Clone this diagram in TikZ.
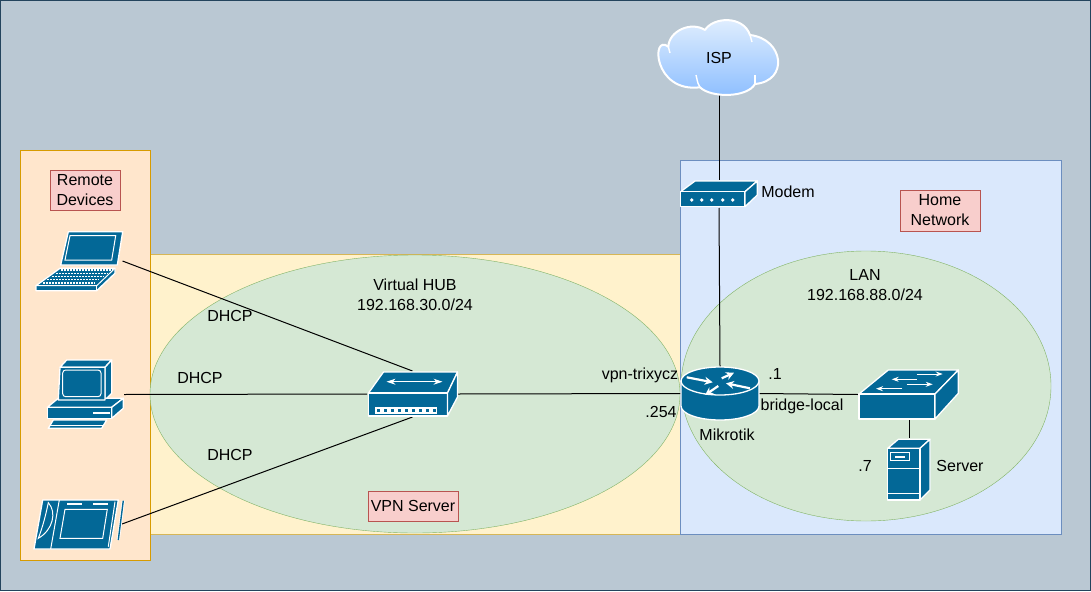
\documentclass[tikz,border=0pt]{standalone}
\usepackage{fontspec}
\setmainfont{Liberation Sans}
\usetikzlibrary{shapes.geometric,arrows.meta}

\definecolor{iconblue}{HTML}{036897}
\definecolor{backcol}{HTML}{BAC8D3}
\definecolor{backline}{HTML}{23445D}
\definecolor{subnetfill}{HTML}{D5E8D4}
\definecolor{subnetline}{HTML}{82B366}
\definecolor{tagfill}{HTML}{F8CECC}
\definecolor{tagline}{HTML}{B85450}
\definecolor{cloudtop}{HTML}{E4F0FE}
\definecolor{cloudbot}{HTML}{8CBEFF}
\definecolor{vpnfill}{HTML}{FFF2CC}
\definecolor{vpnline}{HTML}{D6B656}
\definecolor{homefill}{HTML}{DAE8FC}
\definecolor{homeline}{HTML}{6C8EBF}
\definecolor{remotefill}{HTML}{FFE6CC}
\definecolor{remoteline}{HTML}{D79B00}

\tikzset{
	zone/.style={rectangle,draw,inner sep=0,outer sep=0},
	subnet/.style={ellipse,draw=subnetline,fill=subnetfill,inner sep=0,outer sep=0},
	tag/.style={rectangle,draw=tagline,fill=tagfill,inner sep=0,outer sep=0,align=center},
	label/.style={align=center,inner sep=0},
	iconbox/.style={rectangle,inner sep=0,outer sep=0},
	link/.style={draw=black,line width=1pt},
	icon/.style={fill=iconblue,draw=white,line width=1.3pt,line join=round},
	iconline/.style={draw=white,line width=1pt},
	flow/.style={draw=white,line width=2.2pt,-{Stealth[length=8pt,width=8pt]}},
	thinflow/.style={draw=white,line width=0.9pt,-{Stealth[length=7pt,width=5pt]}},
	% Hub with ports
	hubicon/.pic={
		\path[icon] (-29,-22) -- (45,-22) -- (35,-1) -- (-44,-1) -- cycle;
		\path[icon] (-44,-1) rectangle (35,22);
		\path[icon] (35,-1) -- (45,-22) -- (45,3) -- (35,22) -- cycle;
		\fill[white] (-37.5,13) rectangle (24.5,20);
		\foreach \i in {0,...,8}
			\fill[iconblue] (-35.6+7*\i,15) rectangle +(3,3);
		\draw[thinflow,{Stealth[length=9pt,width=6pt]}-{Stealth[length=9pt,width=6pt]}] (-26,-12.3) -- (30,-12.3);
	},
	% Router
	routericon/.pic={
		\path[icon] (-39,-12.5) -- (-39,12.5) arc[start angle=180,end angle=0,x radius=39,y radius=14] -- (39,-12.5) -- cycle;
		\path[icon] (0,-12.5) ellipse[x radius=39,y radius=14];
		\draw[flow] (-33.3,-16.2) -- (-7.3,-11.2);
		\draw[flow] (1.7,-15.2) -- (14,-20.8);
		\draw[flow] (-1.7,-7.5) -- (-15,1.5);
		\draw[flow] (30,-5.2) -- (6,-10.2);
	},
	% Switch
	switchicon/.pic={
		\path[icon] (-20.7,-24.5) -- (49.3,-24.5) -- (26,-0.5) -- (-50,-0.5) -- cycle;
		\path[icon] (-50,-0.5) rectangle (26,24.5);
		\path[icon] (26,-0.5) -- (49.3,-24.5) -- (49.3,-1.2) -- (26,24.5) -- cycle;
		\draw[thinflow] (7.7,-20.5) -- (33.7,-20.5);
		\draw[thinflow] (7.7,-15.2) -- (-17.3,-15.2);
		\draw[thinflow] (-2.3,-10.2) -- (23.7,-10.2);
		\draw[thinflow] (-6.7,-5.8) -- (-33,-5.8);
	},
	% Server tower
	servericon/.pic={
		\path[icon] (-21.3,-20.7) -- (-10.7,-29.7) -- (21,-29.7) -- (11,-20.7) -- cycle;
		\path[icon] (11,-20.7) -- (21,-29.7) -- (21,21) -- (11,31) -- cycle;
		\path[icon] (-21.3,-20.7) rectangle (11,31);
		\draw[iconline] (-21.3,-0.7) -- (11,-0.7);
		\draw[iconline] (-21.3,24.3) -- (11,24.3);
		\draw[iconline] (-18.3,-16.3) rectangle (0,-8.3);
		\fill[white] (-14,-13.3) rectangle (-4,-11.3);
	},
	% Modem
	modemicon/.pic={
		\path[icon] (-24,-13) -- (38.3,-13) -- (26,-2.3) -- (-38.3,-2.3) -- cycle;
		\path[icon] (-38.3,-2.3) rectangle (26,12.7);
		\path[icon] (26,-2.3) -- (38.3,-13) -- (38.3,1) -- (26,12.7) -- cycle;
		\foreach \i in {-27.3,-17.3,-7.3,3.7,13.7}
			\fill[white] (\i,6) circle (1.8);
	},
	% Laptop
	laptopicon/.pic={
		\path[icon] (-10.2,-29.3) -- (44.2,-29.3) -- (38.8,4) -- (-17.8,4) -- cycle;
		\draw[iconline] (-8.5,-25.3) -- (37.2,-25.3) -- (33.2,-1) -- (-13.5,-1) -- cycle;
		\path[icon] (-18.5,7.3) -- (36.5,7.3) -- (36.5,12.3) -- (18.2,29.7) -- (-42.5,29.7) -- (-42.5,24.7) -- cycle;
		\draw[iconline] (-42.5,24.7) -- (18.2,24.7) -- (36.5,7.3);
		\draw[iconline] (18.2,24.7) -- (18.2,29.7);
		\foreach \i in {0,...,4}
			\draw[white,line width=1.4pt,dash pattern=on 2pt off 1pt] (-18-4.4*\i,9+3.2*\i) -- (34-4.4*\i,9+3.2*\i);
	},
	% Desktop computer
	desktopicon/.pic={
		\path[icon] (-25.5,-27.2) -- (-18.8,-34.5) -- (26.2,-34.5) -- (19.5,-27.2) -- cycle;
		\path[icon] (19.5,-27.2) -- (26.2,-34.5) -- (26.2,-1.2) -- (19.5,5.5) -- cycle;
		\path[icon] (-27.2,3.8) -- (37.8,3.8) -- (26.2,12.8) -- (-38.2,12.8) -- cycle;
		\path[icon] (-25.5,-27.2) -- (19.5,-27.2) -- (19.5,5.5) -- (-27.2,5.5) -- cycle;
		\draw[iconline,rounded corners=3pt] (-22.8,-24.5) rectangle (15.5,2.2);
		\path[icon] (-38.2,12.8) rectangle (26.2,23.8);
		\path[icon] (26.2,12.8) -- (37.8,3.8) -- (37.8,13.8) -- (26.2,23.8) -- cycle;
		\fill[white] (7.2,17.8) rectangle (24.5,19.5);
		\path[icon] (-32.2,25.5) -- (21.2,25.5) -- (16.2,33.8) -- (-37.2,33.8) -- cycle;
		\draw[iconline] (-36,31.3) -- (17.5,31.3);
	},
	% Tablet with pen
	tableticon/.pic={
		\path[icon] (-36.3,-24) -- (39.3,-24) -- (31,25) -- (-45,25) -- cycle;
		\draw[iconline] (-19.7,-24) -- (-28.3,25);
		\draw[iconline] (-30.7,-21.3) .. controls (-22,-12) and (-26,6) .. (-40.7,14.3) .. controls (-36,2) and (-33,-10) .. cycle;
		\draw[iconline] (-14,-14.7) -- (28.3,-14.7) -- (23.7,14.3) -- (-19,14.3) -- cycle;
		\fill[white] (-12.3,-21.3) rectangle (2.7,-18.7);
		\fill[white] (14.3,-21.3) rectangle (29.3,-18.7);
		\draw[iconline] (36,-22.3) -- (29.3,22.7);
		\draw[white,line width=3pt] (44.3,-23.3) -- (39.3,16);
		\draw[iconblue,line width=1.4pt] (44.3,-23.3) -- (39.3,16);
	},
	% Cloud
	cloudicon/.pic={
		\path[draw=white,line width=2pt,top color=cloudtop,bottom color=cloudbot,line join=round]
			(-50.7,-10.3) .. controls (-50,-26) and (-28,-36) .. (-14,-27)
			.. controls (-6,-40) and (24,-42) .. (31,-22)
			.. controls (65,-18) and (70,24) .. (36,27)
			.. controls (28,41) and (-8,41) .. (-19,30.3)
			.. controls (-66,36) and (-68,-24) .. cycle;
		\draw[iconline,line width=1.4pt] (-50.7,-10.3) -- (-49,-4);
		\draw[iconline,line width=1.4pt] (31,-22) -- (33,-15);
		\draw[iconline,line width=1.4pt] (36,27) -- (36,18);
		\draw[iconline,line width=1.4pt] (-19,30.3) .. controls (-21,27) .. (-23,18);
	}
}

\begin{document}
\begin{tikzpicture}[x=1pt,y=-1pt,font=\fontsize{16pt}{20pt}\selectfont]
	\useasboundingbox (0,0) rectangle (1091,591);

	% Zones
	\node[zone,draw=backline,fill=backcol,minimum width=1090pt,minimum height=590pt] (page) at (545.5,295.5) {};
	\node[zone,draw=vpnline,fill=vpnfill,minimum width=530pt,minimum height=280pt] (vpn_zone) at (415,394) {};
	\node[zone,draw=homeline,fill=homefill,minimum width=381pt,minimum height=374pt] (home_zone) at (870.5,347) {};
	\node[zone,draw=remoteline,fill=remotefill,minimum width=130pt,minimum height=410pt] (remote_zone) at (85,355) {};

	% Subnets
	\node[subnet,minimum width=530pt,minimum height=278pt] (vpn_net) at (415,394) {};
	\node[subnet,minimum width=370pt,minimum height=270pt] (lan_net) at (866,386) {};

	% Devices
	\node[iconbox,minimum width=88pt,minimum height=62pt] (laptop) at (78.5,261) {};
	\node[iconbox,minimum width=77pt,minimum height=71pt] (desktop) at (85.5,394.5) {};
	\node[iconbox,minimum width=86pt,minimum height=52pt] (tablet) at (79,524) {};
	\node[iconbox,minimum width=91pt,minimum height=46pt] (hub) at (412.5,394) {};
	\node[iconbox,minimum width=78pt,minimum height=53pt] (router) at (720,393.5) {};
	\node[iconbox,minimum width=77pt,minimum height=28pt] (modem) at (719,194) {};
	\node[iconbox,minimum width=102pt,minimum height=50pt] (lan_switch) at (909,394.5) {};
	\node[iconbox,minimum width=44pt,minimum height=62pt] (server) at (909,469) {};
	\node[iconbox,minimum width=120pt,minimum height=75pt] (isp) at (719,57) {};

	% Links
	\draw[link] (laptop.east) -- (hub.north);
	\draw[link] (desktop.east) -- (hub.west);
	\draw[link] (tablet.east) -- (hub.south);
	\draw[link] (hub.east) -- (router.west);
	\draw[link] (router.north) -- (modem.south);
	\draw[link] (modem.north) -- (isp.south);
	\draw[link] (router.east) -- (lan_switch.west);
	\draw[link] (lan_switch.south) -- (server.north);

	% Icons
	\pic at (laptop) {laptopicon};
	\pic at (desktop) {desktopicon};
	\pic at (tablet) {tableticon};
	\pic at (hub) {hubicon};
	\pic at (router) {routericon};
	\pic at (modem) {modemicon};
	\pic at (lan_switch) {switchicon};
	\pic at (server) {servericon};
	\pic at (isp) {cloudicon};

	% Tags
	\node[tag,minimum width=70pt,minimum height=40pt] (remote_tag) at (85,190) {Remote\\Devices};
	\node[tag,minimum width=80pt,minimum height=41pt] (home_tag) at (940,210.5) {Home\\Network};
	\node[tag,minimum width=90pt,minimum height=30pt] (vpn_tag) at (413,506) {VPN Server};

	% Labels
	\node[label] (hub_label) at (415,295) {Virtual HUB\\192.168.30.0/24};
	\node[label] (lan_label) at (865,285) {LAN\\192.168.88.0/24};
	\node[label] (dhcp_a) at (230,316) {DHCP};
	\node[label] (dhcp_b) at (200,378) {DHCP};
	\node[label] (dhcp_c) at (230,455) {DHCP};
	\node[label] (vpn_if) at (640,375) {vpn-trixycz};
	\node[label] (vpn_ip) at (661,412) {.254};
	\node[label] (lan_ip) at (775,374) {.1};
	\node[label] (bridge_if) at (802,406) {bridge-local};
	\node[label] (router_label) at (727,435) {Mikrotik};
	\node[label] (modem_label) at (788,192) {Modem};
	\node[label] (server_label) at (960,466) {Server};
	\node[label] (server_ip) at (865,466) {.7};
	\node[label] (isp_label) at (719,58) {ISP};
\end{tikzpicture}
\end{document}
